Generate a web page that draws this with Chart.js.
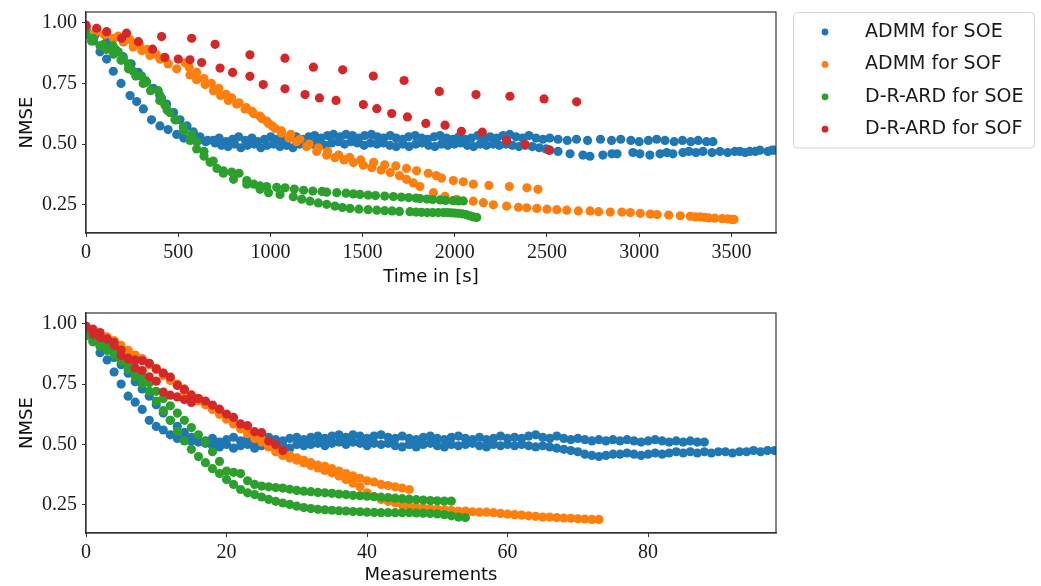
<!DOCTYPE html>
<html><head><meta charset="utf-8">
<script src="https://cdn.jsdelivr.net/npm/chart.js@4.4.1/dist/chart.umd.min.js"></script>
<style>
html,body{margin:0;padding:0;background:#fff;}
#wrap{position:relative;width:1041px;height:586px;overflow:hidden;background:#fff;}
canvas{position:absolute;left:0;}
#c1{top:0;} #c2{top:293px;}
</style></head><body>
<div id="wrap"><canvas id="c1" width="1041" height="293"></canvas><canvas id="c2" width="1041" height="293"></canvas></div>
<script>
// ---------- DATA ----------
const seriesLabels = ["ADMM for SOE", "ADMM for SOF", "D-R-ARD for SOE", "D-R-ARD for SOF"];
const seriesColors = ["#1f77b4", "#ff7f0e", "#2ca02c", "#d62728"];

const yTicks = [0.25, 0.5, 0.75, 1.0];
const timeTicks = [0, 500, 1000, 1500, 2000, 2500, 3000, 3500];
const measTicks = [0, 20, 40, 60, 80];

const measurementSteps = [0,1,2,3,4,5,6,7,8,9,10,11,12,13,14,15,16,17,18,19,20,21,22,23,24,25,26,27,28,29,30,31,32,33,34,35,36,37,38,39,40,41,42,43,44,45,46,47,48,49,50,51,52,53,54,55,56,57,58,59,60,61,62,63,64,65,66,67,68,69,70,71,72,73,74,75,76,77,78,79,80,81,82,83,84,85,86,87,88,89,90,91,92,93,94,95,96,97,98];

// ADMM for SOE, run 1
const admmSoeRun1Nmse = [0.97,0.925,0.88,0.85,0.80,0.75,0.70,0.675,0.645,0.60,0.575,0.56,0.54,0.525,0.52,0.515,0.51,
 0.515,0.525,0.51,0.52,0.53,0.515,0.525,0.51,0.52,0.53,0.52,0.515,0.525,0.53,
 0.52,0.53,0.535,0.525,0.535,0.54,0.53,0.54,0.535,0.525,0.535,0.54,0.53,0.525,0.535,
 0.525,0.52,0.53,0.535,0.525,0.52,0.53,0.535,0.525,0.52,0.53,0.52,0.525,0.535,0.525,
 0.53,0.525,0.535,0.54,0.53,0.525,0.535,0.525,0.52,0.525,0.52,0.515,0.52,0.515,0.52,
 0.515,0.52,0.515,0.51,0.515,0.52,0.515,0.51,0.515,0.51,0.515,0.51,0.51];
const admmSoeRun1Time = [0,40,76,112,148,190,239,275,311,355,401,445,492,530,570,610,650,
 690,722,760,795,828,865,900,930,968,1002,1035,1070,1105,1140,
 1172,1208,1240,1275,1310,1342,1378,1410,1445,1480,1512,1548,1580,1615,1650,
 1682,1718,1750,1785,1820,1852,1888,1920,1955,1990,2022,2058,2090,2125,2160,
 2192,2228,2262,2298,2332,2368,2402,2440,2478,2515,2560,2610,2660,2720,2790,
 2850,2900,2955,3000,3050,3095,3140,3190,3235,3280,3320,3365,3400];
// ADMM for SOE, run 2
const admmSoeRun2Nmse = [0.97,0.95,0.92,0.89,0.86,0.83,0.795,0.76,0.73,0.70,0.665,0.63,0.60,0.575,0.55,0.53,0.515,
 0.505,0.495,0.49,0.50,0.485,0.495,0.50,0.485,0.495,0.50,0.49,0.495,0.485,0.50,
 0.495,0.50,0.505,0.495,0.505,0.51,0.50,0.51,0.505,0.495,0.505,0.50,0.505,0.495,0.49,
 0.50,0.49,0.50,0.505,0.495,0.49,0.50,0.495,0.50,0.505,0.495,0.49,0.50,0.495,0.50,
 0.495,0.50,0.495,0.49,0.495,0.49,0.485,0.48,0.475,0.47,0.46,0.455,0.45,0.455,0.46,
 0.46,0.465,0.46,0.455,0.46,0.465,0.46,0.465,0.47,0.465,0.47,0.465,0.47,0.465,0.47,0.47,0.465,0.47,0.47,0.475,0.47,0.475,0.475];
const admmSoeRun2Time = [0,50,112,160,202,245,284,325,365,400,437,475,510,548,582,618,660,
 700,735,770,805,840,875,912,948,982,1018,1052,1088,1122,1158,
 1192,1228,1262,1298,1332,1368,1402,1438,1472,1508,1542,1578,1612,1648,1682,
 1718,1752,1788,1822,1858,1892,1928,1962,1998,2032,2068,2102,2138,2172,2208,
 2242,2278,2312,2348,2382,2420,2458,2495,2516,2560,2625,2695,2733,2803,2852,
 2880,2966,3004,3058,3113,3150,3183,3237,3270,3308,3346,3395,3438,3480,3519,3546,3575,3600,3630,3655,3698,3720,3736];

// ADMM for SOF, run 1
const admmSofRun1Nmse = [0.98,0.97,0.955,0.945,0.93,0.91,0.89,0.87,0.855,0.835,0.815,0.795,0.77,0.75,0.73,0.705,0.69,0.67,0.65,0.635,
 0.615,0.595,0.575,0.555,0.54,0.52,0.50,0.485,0.47,0.455,0.445,0.435,0.425,0.415,0.41,0.40,0.39,0.38,0.37,0.36,
 0.35,0.345,0.335,0.33,0.325,0.32,0.314];
const admmSofRun1Time = [0,60,112,175,239,290,330,380,420,537,560,600,640,680,720,760,790,830,870,900,
 944,980,1010,1060,1110,1160,1210,1260,1310,1370,1430,1490,1560,1620,1680,1738,1793,1856,1900,1928,
 1992,2046,2100,2185,2296,2391,2451];
// ADMM for SOF, run 2
const admmSofRun2Nmse = [0.975,0.96,0.95,0.935,0.92,0.90,0.885,0.865,0.85,0.83,0.81,0.785,0.765,0.745,0.72,0.70,0.68,0.665,0.645,0.625,0.605,0.585,0.565,0.545,0.525,0.51,0.49,0.47,0.455,
 0.444,0.435,0.424,0.413,0.403,0.393,0.383,0.37,0.355,0.34,0.325,0.30,0.285,0.273,0.265,0.259,0.25,
 0.245,0.24,0.238,0.235,0.232,0.23,0.228,0.225,0.225,0.222,0.22,0.22,0.218,0.215,0.212,0.21,0.208,0.205,0.203,0.20,0.20,0.198,0.196,0.195,0.193,0.192,0.19,0.19];
const admmSofRun2Time = [0,50,100,150,202,256,302,347,401,446,492,564,600,646,691,730,772,817,862,910,953,990,1025,1060,1100,1142,1196,1251,1305,
 1350,1400,1450,1504,1550,1600,1650,1700,1738,1775,1811,1884,1947,2010,2100,2155,2209,
 2281,2345,2390,2445,2500,2553,2607,2670,2734,2780,2843,2906,2952,3006,3060,3097,3160,3223,3277,3305,3331,3355,3377,3410,3450,3480,3500,3514];

// D-R-ARD for SOE, run 1
const ardSoeRun1Nmse = [0.955,0.935,0.91,0.905,0.88,0.855,0.83,0.80,0.78,0.755,0.72,0.69,0.66,0.63,0.60,0.57,0.54,0.51,0.47,0.43,0.39,
 0.385,0.38,0.35,0.335,0.328,0.325,0.322,0.32,0.315,0.31,0.307,0.305,0.302,0.30,0.298,0.295,0.293,0.29,0.288,0.286,0.284,0.282,0.28,0.278,0.276,0.274,0.272,0.27,0.268,0.267,0.266,0.266];
const ardSoeRun1Time = [0,40,94,146,175,202,230,256,302,329,392,410,428,455,482,528,573,600,640,690,745,
 790,830,872,910,944,980,1034,1080,1130,1180,1230,1280,1305,1360,1410,1450,1486,1530,1570,1620,1667,1710,1750,1790,1811,1850,1880,1920,1950,1990,2020,2046];
// D-R-ARD for SOE, run 2
const ardSoeRun2Nmse = [0.95,0.925,0.905,0.89,0.87,0.845,0.81,0.78,0.75,0.72,0.68,0.64,0.60,0.555,0.515,0.48,0.45,0.425,0.40,0.38,0.355,
 0.335,0.314,0.30,0.293,0.283,0.273,0.265,0.258,0.252,0.245,0.239,0.235,0.232,0.23,0.228,0.226,0.225,0.223,0.222,0.22,0.219,0.218,0.218,0.218,0.218,0.218,0.217,0.216,0.215,0.213,0.21,0.205,0.2,0.198];
const ardSoeRun2Time = [0,30,76,112,150,190,230,270,310,350,400,440,490,530,564,600,640,673,710,745,800,
 872,944,990,1052,1124,1170,1215,1260,1305,1350,1390,1432,1480,1530,1577,1620,1660,1700,1757,1790,1820,1850,1880,1910,1938,1960,1980,2000,2020,2040,2060,2080,2100,2119];

// D-R-ARD for SOF, run 1
const ardSofRun1Nmse = [0.985,0.977,0.963,0.936,0.922,0.891,0.857,0.85,0.847,0.836,0.813,0.795,0.779,0.745,0.728,0.704,0.69,0.68,0.663,0.646,0.626,0.612,0.585,0.578,0.553,0.549,0.515,0.499,0.475];
const ardSofRun1Time = [0,58,112,193,284,361,428,500,564,627,727,795,889,961,1079,1188,1266,1356,1504,1577,1658,1743,1843,1947,2036,2149,2281,2381,2511];
// D-R-ARD for SOF, run 2
const ardSofRun2Nmse = [0.99,0.957,0.943,0.936,0.911,0.868,0.854,0.817,0.806,0.78,0.762,0.717,0.704,0.697,0.686,0.674];
const ardSofRun2Time = [0,220,410,573,700,889,1079,1233,1392,1558,1725,1916,2115,2299,2484,2661];

// ---------- BUILD ----------
const runs = [
  [[admmSoeRun1Time, admmSoeRun1Nmse], [admmSoeRun2Time, admmSoeRun2Nmse]],
  [[admmSofRun1Time, admmSofRun1Nmse], [admmSofRun2Time, admmSofRun2Nmse]],
  [[ardSoeRun1Time, ardSoeRun1Nmse], [ardSoeRun2Time, ardSoeRun2Nmse]],
  [[ardSofRun1Time, ardSofRun1Nmse], [ardSofRun2Time, ardSofRun2Nmse]]
];

function buildData(useTime) {
  return runs.map(function (rs, k) {
    const pts = [];
    rs.forEach(function (r) {
      const t = r[0], v = r[1];
      const n = Math.min(v.length, useTime ? t.length : measurementSteps.length);
      for (let i = 0; i < n; i++) pts.push({x: useTime ? t[i] : measurementSteps[i], y: v[i]});
    });
    return {
      label: seriesLabels[k], data: pts,
      backgroundColor: seriesColors[k], borderColor: seriesColors[k],
      pointRadius: 4.6, pointHoverRadius: 4.6, borderWidth: 0, pointBorderWidth: 0,
      showLine: false, order: 4 - k
    };
  });
}

const AX = '#333333';
const TICK_FONT = {family: 'Liberation Serif', size: 20};
const TITLE_FONT = {family: 'DejaVu Sans', size: 18};

const framePlugin = {
  id: 'frame',
  afterDatasetsDraw(chart) {
    const {ctx, chartArea: a} = chart;
    ctx.save();
    ctx.strokeStyle = AX; ctx.lineWidth = 1.2;
    ctx.strokeRect(a.left, a.top, a.right - a.left, a.bottom - a.top);
    ctx.restore();
  }
};

const legendPlugin = {
  id: 'boxLegend',
  afterDraw(chart) {
    const ctx = chart.ctx;
    const x0 = 793.5, y0 = 12.5, w = 241, h = 135.5, r = 4;
    ctx.save();
    ctx.beginPath();
    ctx.moveTo(x0 + r, y0); ctx.lineTo(x0 + w - r, y0); ctx.arcTo(x0 + w, y0, x0 + w, y0 + r, r);
    ctx.lineTo(x0 + w, y0 + h - r); ctx.arcTo(x0 + w, y0 + h, x0 + w - r, y0 + h, r);
    ctx.lineTo(x0 + r, y0 + h); ctx.arcTo(x0, y0 + h, x0, y0 + h - r, r);
    ctx.lineTo(x0, y0 + r); ctx.arcTo(x0, y0, x0 + r, y0, r);
    ctx.closePath();
    ctx.fillStyle = 'rgba(255,255,255,0.8)'; ctx.fill();
    ctx.strokeStyle = '#d4d4d4'; ctx.lineWidth = 1; ctx.stroke();
    ctx.font = '19px "DejaVu Sans"';
    ctx.textBaseline = 'middle'; ctx.textAlign = 'left';
    chart.data.datasets.forEach(function (ds, i) {
      const yy = 32 + i * 32.4;
      ctx.beginPath(); ctx.arc(825, yy, 3.4, 0, Math.PI * 2);
      ctx.fillStyle = ds.backgroundColor; ctx.fill();
      ctx.fillStyle = '#1a1a1a';
      ctx.fillText(ds.label, 865, yy);
    });
    ctx.restore();
  }
};

function makeChart(canvas, useTime, xMax, xTicks, xTitle, padTop, xAxisH, titlePadBottom, legend) {
  const plugins = [framePlugin];
  if (legend) plugins.push(legendPlugin);
  return new Chart(canvas, {
    type: 'scatter',
    data: {datasets: buildData(useTime)},
    plugins: plugins,
    options: {
      responsive: false, animation: false, devicePixelRatio: 1,
      layout: {padding: {left: 0, top: padTop, right: 265, bottom: 0}},
      plugins: {legend: {display: false}, tooltip: {enabled: false}},
      scales: {
        x: {
          type: 'linear', min: 0, max: xMax,
          afterBuildTicks: s => { s.ticks = xTicks.map(v => ({value: v})); },
          afterFit: s => { s.height = xAxisH; s.paddingLeft = 0; s.paddingRight = 0; },
          grid: {display: true, drawOnChartArea: false, drawTicks: true, tickLength: 4, color: AX, lineWidth: 1},
          border: {display: true, color: AX, width: 1.2},
          ticks: {font: TICK_FONT, color: '#1a1a1a', padding: 4, maxRotation: 0, autoSkip: false, callback: v => String(v)},
          title: {display: true, text: xTitle, font: TITLE_FONT, color: '#111', padding: {top: 0, bottom: titlePadBottom}}
        },
        y: {
          type: 'linear', min: 0.134, max: 1.044,
          afterBuildTicks: s => { s.ticks = yTicks.map(v => ({value: v})); },
          afterFit: s => { s.width = 86; s.paddingTop = 0; s.paddingBottom = 0; },
          grid: {display: true, drawOnChartArea: false, drawTicks: true, tickLength: 4, color: AX, lineWidth: 1},
          border: {display: true, color: AX, width: 1.2},
          ticks: {font: TICK_FONT, color: '#1a1a1a', padding: 5, autoSkip: false, callback: v => Number(v).toFixed(2)},
          title: {display: true, text: 'NMSE', font: TITLE_FONT, color: '#111', padding: {top: 17, bottom: 0}}
        }
      }
    }
  });
}

makeChart(document.getElementById('c1'), true, 3742, timeTicks, 'Time in [s]', 12, 60, 5, true);
makeChart(document.getElementById('c2'), false, 98.2, measTicks, 'Measurements', 20, 53, 0, false);
</script>
</body></html>
